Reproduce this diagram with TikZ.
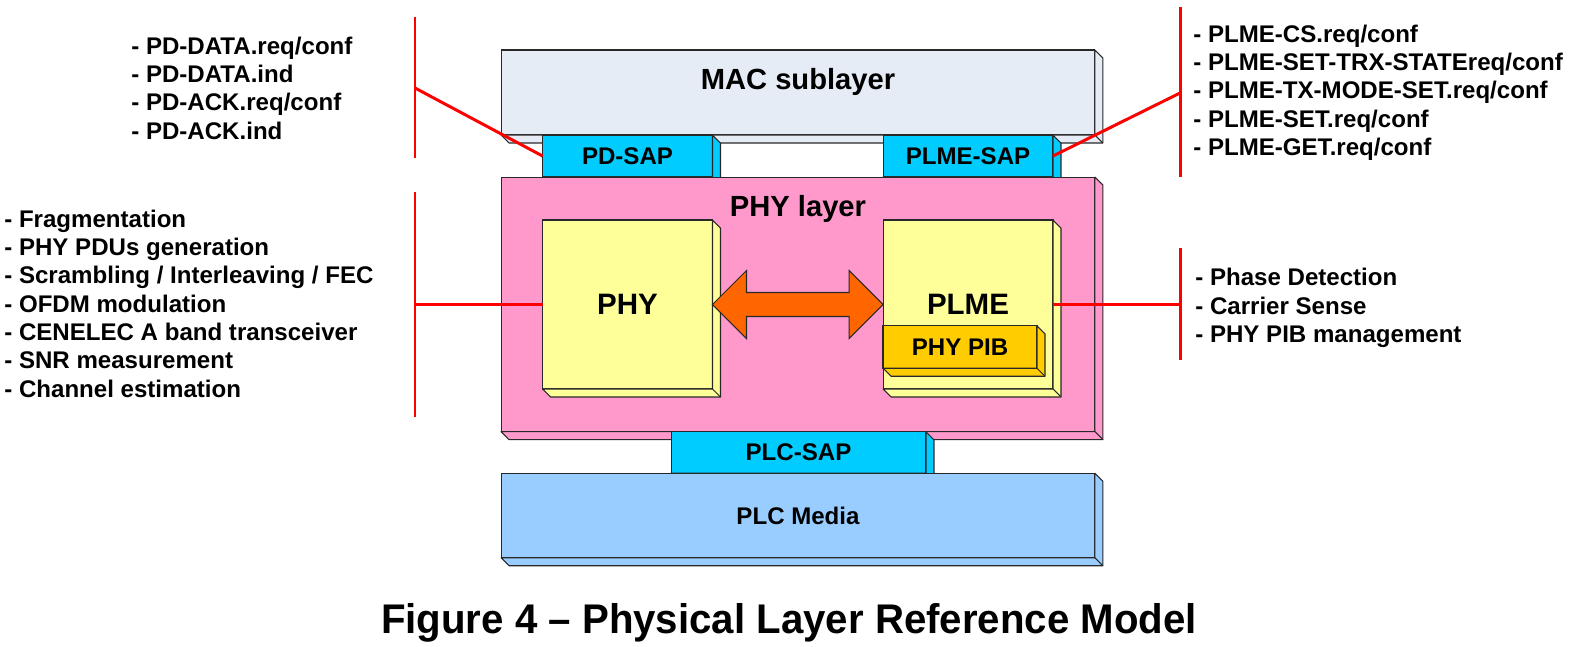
\documentclass[tikz,border=0pt]{standalone}
\usepackage{fontspec}
\setmainfont{Liberation Sans}
\usepackage{graphicx}
\usetikzlibrary{calc}
\definecolor{macgray}{RGB}{230,236,246}
\definecolor{sapcyan}{RGB}{0,204,255}
\definecolor{phypink}{RGB}{255,153,204}
\definecolor{boxyellow}{RGB}{255,255,153}
\definecolor{pibgold}{RGB}{255,204,0}
\definecolor{arroworange}{RGB}{255,102,0}
\definecolor{mediablue}{RGB}{153,204,255}
\definecolor{linered}{RGB}{255,0,0}
\definecolor{edgegray}{RGB}{40,40,40}
\tikzstyle{slab} = [rectangle, draw=edgegray, line width=0.6pt, inner sep=0pt, outer sep=0pt, font=\fontsize{13.7}{16}\selectfont\bfseries]
\tikzstyle{bigslab} = [slab, font=\fontsize{16.8}{20}\selectfont\bfseries]
\tikzstyle{title} = [inner sep=0pt, anchor=base, font=\fontsize{16.6}{20}\selectfont\bfseries]
\tikzstyle{bullets} = [inner sep=0pt, anchor=north west, align=left, font=\fontsize{13.7}{16.1}\selectfont\bfseries]
\tikzstyle{redline} = [draw=linered, line width=1.7pt]
\tikzstyle{caption} = [inner sep=0pt, anchor=base, font=\fontsize{23.6}{28}\selectfont\bfseries]
% depth faces of a slab: right side and bottom
\newcommand{\slabfaces}[2]{%
  \filldraw[fill=#2, draw=edgegray, line width=0.6pt, line join=round]
    (#1.north east) -- ++(8,8) -- ($(#1.south east)+(8,8)$) -- ($(#1.south west)+(8,8)$)
    -- (#1.south west) -- (#1.south east) -- cycle;
  \draw[edgegray, line width=0.6pt] (#1.south east) -- ++(8,8);
}

\begin{document}
\begin{tikzpicture}[x=0.02cm, y=-0.02cm]
    \useasboundingbox (0,0) rectangle (1582,646);

            % Nodes
            \node (mac) [slab, fill=macgray, minimum width=11.88cm, minimum height=1.70cm] at (798,92.5) {};
            \slabfaces{mac}{macgray}
            \node (mactitle) [title] at (798,89) {MAC sublayer};

            \node (pdsap) [slab, fill=sapcyan, minimum width=3.40cm, minimum height=0.84cm] at (627.5,156) {PD-SAP};
            \slabfaces{pdsap}{sapcyan}
            \node (plmesap) [slab, fill=sapcyan, minimum width=3.40cm, minimum height=0.84cm] at (968,156) {PLME-SAP};
            \slabfaces{plmesap}{sapcyan}

            \node (phylayer) [slab, fill=phypink, minimum width=11.88cm, minimum height=5.09cm] at (798,304.4) {};
            \slabfaces{phylayer}{phypink}
            \node (phytitle) [title] at (798,216.7) {PHY layer};

            \node (phy) [bigslab, fill=boxyellow, minimum width=3.40cm, minimum height=3.38cm] at (627.5,304.5) {PHY};
            \slabfaces{phy}{boxyellow}
            \node (plme) [bigslab, fill=boxyellow, minimum width=3.40cm, minimum height=3.38cm] at (968,304.5) {PLME};
            \slabfaces{plme}{boxyellow}
            \node (pib) [slab, fill=pibgold, minimum width=3.08cm, minimum height=0.85cm] at (960,347) {PHY PIB};
            \slabfaces{pib}{pibgold}

            \node (plcsap) [slab, fill=sapcyan, minimum width=5.10cm, minimum height=0.83cm] at (798.5,452.5) {PLC-SAP};
            \slabfaces{plcsap}{sapcyan}
            \node (media) [slab, fill=mediablue, minimum width=11.88cm, minimum height=1.69cm] at (798,515.5) {PLC Media};
            \slabfaces{media}{mediablue}

            \node (pdlist) [bullets] at (131,36.5) {- PD-DATA.req/conf\\- PD-DATA.ind\\- PD-ACK.req/conf\\- PD-ACK.ind};
            \node (plmesaplist) [bullets] at (1193,24.5) {- PLME-CS.req/conf\\- PLME-SET-TRX-STATEreq/conf\\- PLME-TX-MODE-SET.req/conf\\- PLME-SET.req/conf\\- PLME-GET.req/conf};
            \node (phylist) [bullets] at (4,209.5) {- Fragmentation\\- PHY PDUs generation\\- Scrambling / Interleaving / FEC\\- OFDM modulation\\- CENELEC A band transceiver\\- SNR measurement\\- Channel estimation};
            \node (plmelist) [bullets] at (1195,268) {- Phase Detection\\- Carrier Sense\\- PHY PIB management};

            \node (caption) [caption] at (789,633) {\scalebox{0.97}[1]{Figure 4 – Physical Layer Reference Model}};

            % Bracket points
            \coordinate (pdtop) at (415,17);
            \coordinate (pdbot) at (415,158);
            \coordinate (pdjoin) at (415,88);
            \coordinate (plmesaptop) at (1180,7);
            \coordinate (plmesapbot) at (1180,177);
            \coordinate (plmesapjoin) at (1180,93);
            \coordinate (phytop) at (415,192);
            \coordinate (phybot) at (415,417);
            \coordinate (phyjoin) at (415,304.5);
            \coordinate (plmetop) at (1180,248);
            \coordinate (plmebot) at (1180,360);
            \coordinate (plmejoin) at (1180,304.5);

            % Arrows
            \filldraw [fill=arroworange, draw=edgegray, line width=0.6pt] (phy.east) -- ++(34,-34) -- ++(0,22) -- ($(plme.west)+(-34,-12)$) -- ++(0,-22) -- (plme.west) -- ++(-34,34) -- ++(0,-22) -- ($(phy.east)+(34,12)$) -- ++(0,22) -- cycle;

            \draw [redline] (pdtop) -- (pdbot);
            \draw [redline] (pdjoin) -- (pdsap.west);
            \draw [redline] (plmesaptop) -- (plmesapbot);
            \draw [redline] (plmesapjoin) -- (plmesap.east);
            \draw [redline] (phytop) -- (phybot);
            \draw [redline] (phyjoin) -- (phy.west);
            \draw [redline] (plmetop) -- (plmebot);
            \draw [redline] (plme.east) -- (plmejoin);

\end{tikzpicture}
\end{document}
